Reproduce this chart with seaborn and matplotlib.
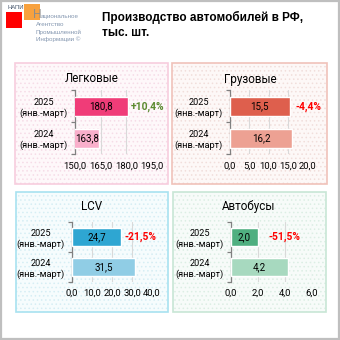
import matplotlib
matplotlib.use("Agg")
import matplotlib.pyplot as plt
import seaborn as sns
import pandas as pd
from matplotlib.patches import Rectangle
from matplotlib.ticker import FixedLocator

sns.set_theme(style="white")
plt.rcParams['font.family'] = ['Roboto', 'DejaVu Sans']
plt.rcParams['hatch.linewidth'] = 0.6

# ---- data ----
categories = ["2025\n(янв.-март)", "2024\n(янв.-март)"]
panel_titles = ["Легковые", "Грузовые", "LCV", "Автобусы"]
values_cars = [180.8, 163.8]
values_trucks = [15.5, 16.2]
values_lcv = [24.7, 31.5]
values_buses = [2.0, 4.2]
changes = ["+10,4%", "-4,4%", "-21,5%", "-51,5%"]
ticks_cars = [150.0, 165.0, 180.0, 195.0]
ticks_trucks = [0.0, 5.0, 10.0, 15.0, 20.0]
ticks_lcv = [0.0, 10.0, 20.0, 30.0, 40.0]
ticks_buses = [0.0, 2.0, 4.0, 6.0]
main_title = "Производство автомобилей в РФ,\nтыс. шт."

W = H = 340
fig = plt.figure(figsize=(3.4, 3.4), dpi=100)
fig.patch.set_facecolor("white")

def fx(px):
    return px / W
def fy(py):
    return 1 - py / H

# outer frame
fig.patches.append(Rectangle((fx(0.8), fy(339.2)), fx(338.4), 338.4 / H, transform=fig.transFigure,
                             fill=False, edgecolor="#BFBFBF", linewidth=1.6, zorder=-3))

# panels: (x0, y0, x1, y1) pixel, fill, dots, border
panels = [
    ((15, 63, 168, 184), "#FEF8FA", "#F6DCE7", "#F7CDDE"),
    ((172, 63, 327, 184), "#FDF8F7", "#F1DEDB", "#F0C2BA"),
    ((16, 192, 168, 312), "#F6FCFD", "#D6EEF4", "#A8E2F0"),
    ((173, 192, 326, 312), "#F7FBF9", "#DCEEE4", "#C8E6D6"),
]
for (x0, y0, x1, y1), fc, dc, ec in panels:
    fig.patches.append(Rectangle((fx(x0), fy(y1)), fx(x1 - x0), (y1 - y0) / H,
                                 transform=fig.transFigure, facecolor=fc, edgecolor="none",
                                 linewidth=0, zorder=-2))
    fig.patches.append(Rectangle((fx(x0), fy(y1)), fx(x1 - x0), (y1 - y0) / H,
                                 transform=fig.transFigure, fill=False, edgecolor=dc, hatch="....",
                                 linewidth=0, zorder=-1.5))
    fig.patches.append(Rectangle((fx(x0), fy(y1)), fx(x1 - x0), (y1 - y0) / H,
                                 transform=fig.transFigure, fill=False, edgecolor=ec,
                                 linewidth=1.2, zorder=-1))

# axes pixel boxes: (left, top, right, bottom)
axes_boxes = [
    (75, 90.5, 152, 154.5),
    (230, 90.5, 307, 154.5),
    (72, 222, 152, 282),
    (231, 222, 312, 282),
]
all_values = [values_cars, values_trucks, values_lcv, values_buses]
all_ticks = [ticks_cars, ticks_trucks, ticks_lcv, ticks_buses]
palettes = [
    ["#F03C78", "#F9AFCB"],
    ["#DE5F4D", "#EDA193"],
    ["#2EA6D2", "#90CDE5"],
    ["#4FAF80", "#A7D9BF"],
]
change_colors = ["#5B8A2F", "#FF0000", "#FF0000", "#FF0000"]
change_offsets = [2.5, 4.0, 2.5, 7.5]
title_pos = [(92, 79), (250, 79), (92, 207), (249, 207)]

for i in range(4):
    l, t, r, b = axes_boxes[i]
    ax = fig.add_axes([fx(l), fy(b), fx(r - l), (b - t) / H])
    ax.set_facecolor("none")
    df = pd.DataFrame({"cat": categories, "val": all_values[i]})
    sns.barplot(data=df, y="cat", x="val", hue="cat", palette=palettes[i], orient="h",
                width=0.6, legend=False, ax=ax, saturation=1, zorder=3)
    tk = all_ticks[i]
    ax.set_xlim(tk[0], tk[-1])
    ax.set_ylim(1.5, -0.5)
    ax.xaxis.set_major_locator(FixedLocator(tk))
    ax.set_xticklabels([f"{v:.1f}".replace(".", ",") for v in tk])
    ax.set_xlabel("")
    ax.set_ylabel("")
    ax.grid(axis="x", color="#D9D9D9", linewidth=0.8, zorder=0)
    ax.grid(axis="y", visible=False)
    for s in ["top", "right", "bottom"]:
        ax.spines[s].set_visible(False)
    ax.spines["left"].set_color("#808080")
    ax.spines["left"].set_linewidth(0.9)
    ax.tick_params(axis="x", length=0, pad=5, labelsize=6.8, labelcolor="#000000")
    ax.tick_params(axis="y", which="major", length=0, pad=22.5, labelsize=6.6, labelcolor="#000000")
    ax.yaxis.set_minor_locator(FixedLocator([-0.5, 0.5, 1.5]))
    ax.tick_params(axis="y", which="minor", left=True, length=3, width=0.9, color="#808080", direction="out")
    for lab in ax.get_yticklabels():
        lab.set_ha("center")
        lab.set_multialignment("center")
        lab.set_linespacing(1.2)
    for c in ax.containers:
        ax.bar_label(c, labels=[f"{v:.1f}".replace(".", ",") for v in c.datavalues],
                     label_type="center", fontsize=7.0, color="#000000")
    ax.annotate(changes[i], xy=(all_values[i][0], 0), xytext=(change_offsets[i], 0),
                textcoords="offset points", ha="left", va="center", fontsize=7.4,
                fontweight="bold", color=change_colors[i], annotation_clip=False)
    tx, ty = title_pos[i]
    fig.text(fx(tx), fy(ty), panel_titles[i], ha="center", va="center", fontsize=8.4, color="#000000")

# main title
fig.text(fx(102), fy(25), main_title, ha="left", va="center", fontsize=8.5, fontweight="bold",
         family=["Liberation Sans", "DejaVu Sans"], color="#000000", linespacing=1.3)

# logo
fig.patches.append(Rectangle((fx(6), fy(28)), fx(16), 16 / H, transform=fig.transFigure,
                             facecolor="#FF0000", edgecolor="none", zorder=2))
fig.patches.append(Rectangle((fx(24), fy(19.5)), fx(16), 15.5 / H, transform=fig.transFigure,
                             facecolor="#F7A13E", edgecolor="none", zorder=2))
fig.text(fx(7), fy(7.5), "НАПИ", ha="left", va="center", fontsize=4.2, color="#44546A",
         family=["Liberation Sans", "DejaVu Sans"])
fig.text(fx(33), fy(14.5), "Н", ha="left", va="center", fontsize=8.5, color="#8C8C8C",
         family=["Liberation Sans", "DejaVu Sans"], zorder=3)
logo_lines = ["ациональное", "Агентство", "Промышленной", "Информации ©"]
logo_pos = [(40.5, 16.5), (36, 24.5), (36, 32), (36, 39.5)]
for s, (lx, ly) in zip(logo_lines, logo_pos):
    fig.text(fx(lx), fy(ly), s, ha="left", va="center", fontsize=4.5, color="#8497B0",
             family=["Liberation Sans", "DejaVu Sans"])

fig.savefig("out.png", dpi=100)
